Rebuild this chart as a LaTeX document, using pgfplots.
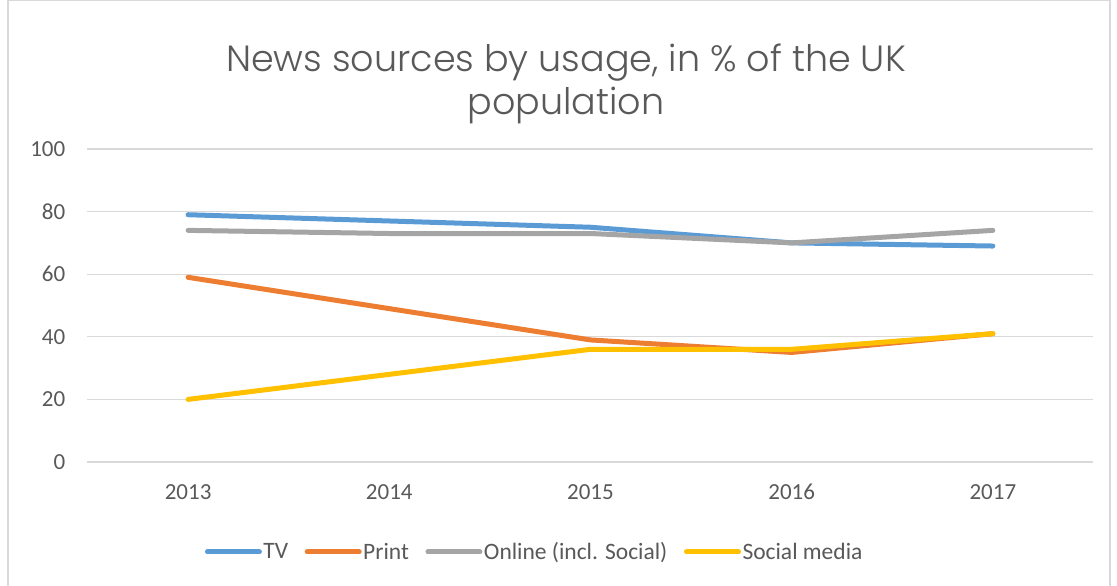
\documentclass[border=0pt]{standalone}
\usepackage{pgfplots}
\pgfplotsset{compat=1.18}
\usepackage{fontspec}
\setmainfont{Carlito}
\newfontfamily\titlefont{Poppins Light}
\definecolor{tvc}{HTML}{5B9BD5}
\definecolor{prc}{HTML}{ED7D31}
\definecolor{onc}{HTML}{A5A5A5}
\definecolor{soc}{HTML}{FFC000}
\definecolor{gridc}{HTML}{D9D9D9}
\definecolor{txtc}{HTML}{595959}
\begin{document}
\begin{tikzpicture}[x=1pt,y=1pt]
\useasboundingbox (0,0) rectangle (1117,586);
\draw[gridc, line width=1.2pt] (8,-10) rectangle (1110,585.5);
\node[text=txtc, font=\titlefont\fontsize{36.5}{43}\selectfont, align=center] at (566,502.5) {News sources by usage, in \% of the UK\\population};
\begin{axis}[
  at={(87.5pt,124pt)}, anchor=south west,
  scale only axis, width=1006pt, height=313pt,
  xmin=-0.5, xmax=4.5, ymin=0, ymax=100,
  xtick={0,1,2,3,4}, xticklabels={2013,2014,2015,2016,2017},
  ytick={0,20,40,60,80,100},
  axis line style={draw=none},
  major tick style={draw=none},
  ymajorgrids, grid style={gridc, line width=1.2pt},
  /pgf/number format/assume math mode=true,
  tick label style={font=\fontsize{23}{26}\selectfont, text=txtc},
  yticklabel style={inner sep=0pt, xshift=-22pt},
  xticklabel style={inner sep=0pt, yshift=-22pt},
  legend columns=4,
  legend style={draw=none, at={(0.4443,-0.2875)}, anchor=center,
    font=\fontsize{23.5}{26}\selectfont, text=txtc,
    /tikz/every odd column/.append style={column sep=0pt},
    /tikz/every even column/.append style={column sep=15pt},
    nodes={inner sep=1.5pt}},
  legend image code/.code={\draw[line width=5pt, line cap=round] (0pt,0pt) -- (52pt,0pt);},
  every axis plot/.append style={line width=5pt, line join=round, line cap=round},
]
\addplot[tvc] coordinates {(0,79) (1,77) (2,75) (3,70) (4,69)};
\addlegendentry{TV}
\addplot[prc] coordinates {(0,59) (1,49) (2,39) (3,35) (4,41)};
\addlegendentry{Print}
\addplot[onc] coordinates {(0,74) (1,73) (2,73) (3,70) (4,74)};
\addlegendentry{Online (incl. Social)}
\addplot[soc] coordinates {(0,20) (1,28) (2,36) (3,36) (4,41)};
\addlegendentry{Social media}
\end{axis}
\end{tikzpicture}
\end{document}
